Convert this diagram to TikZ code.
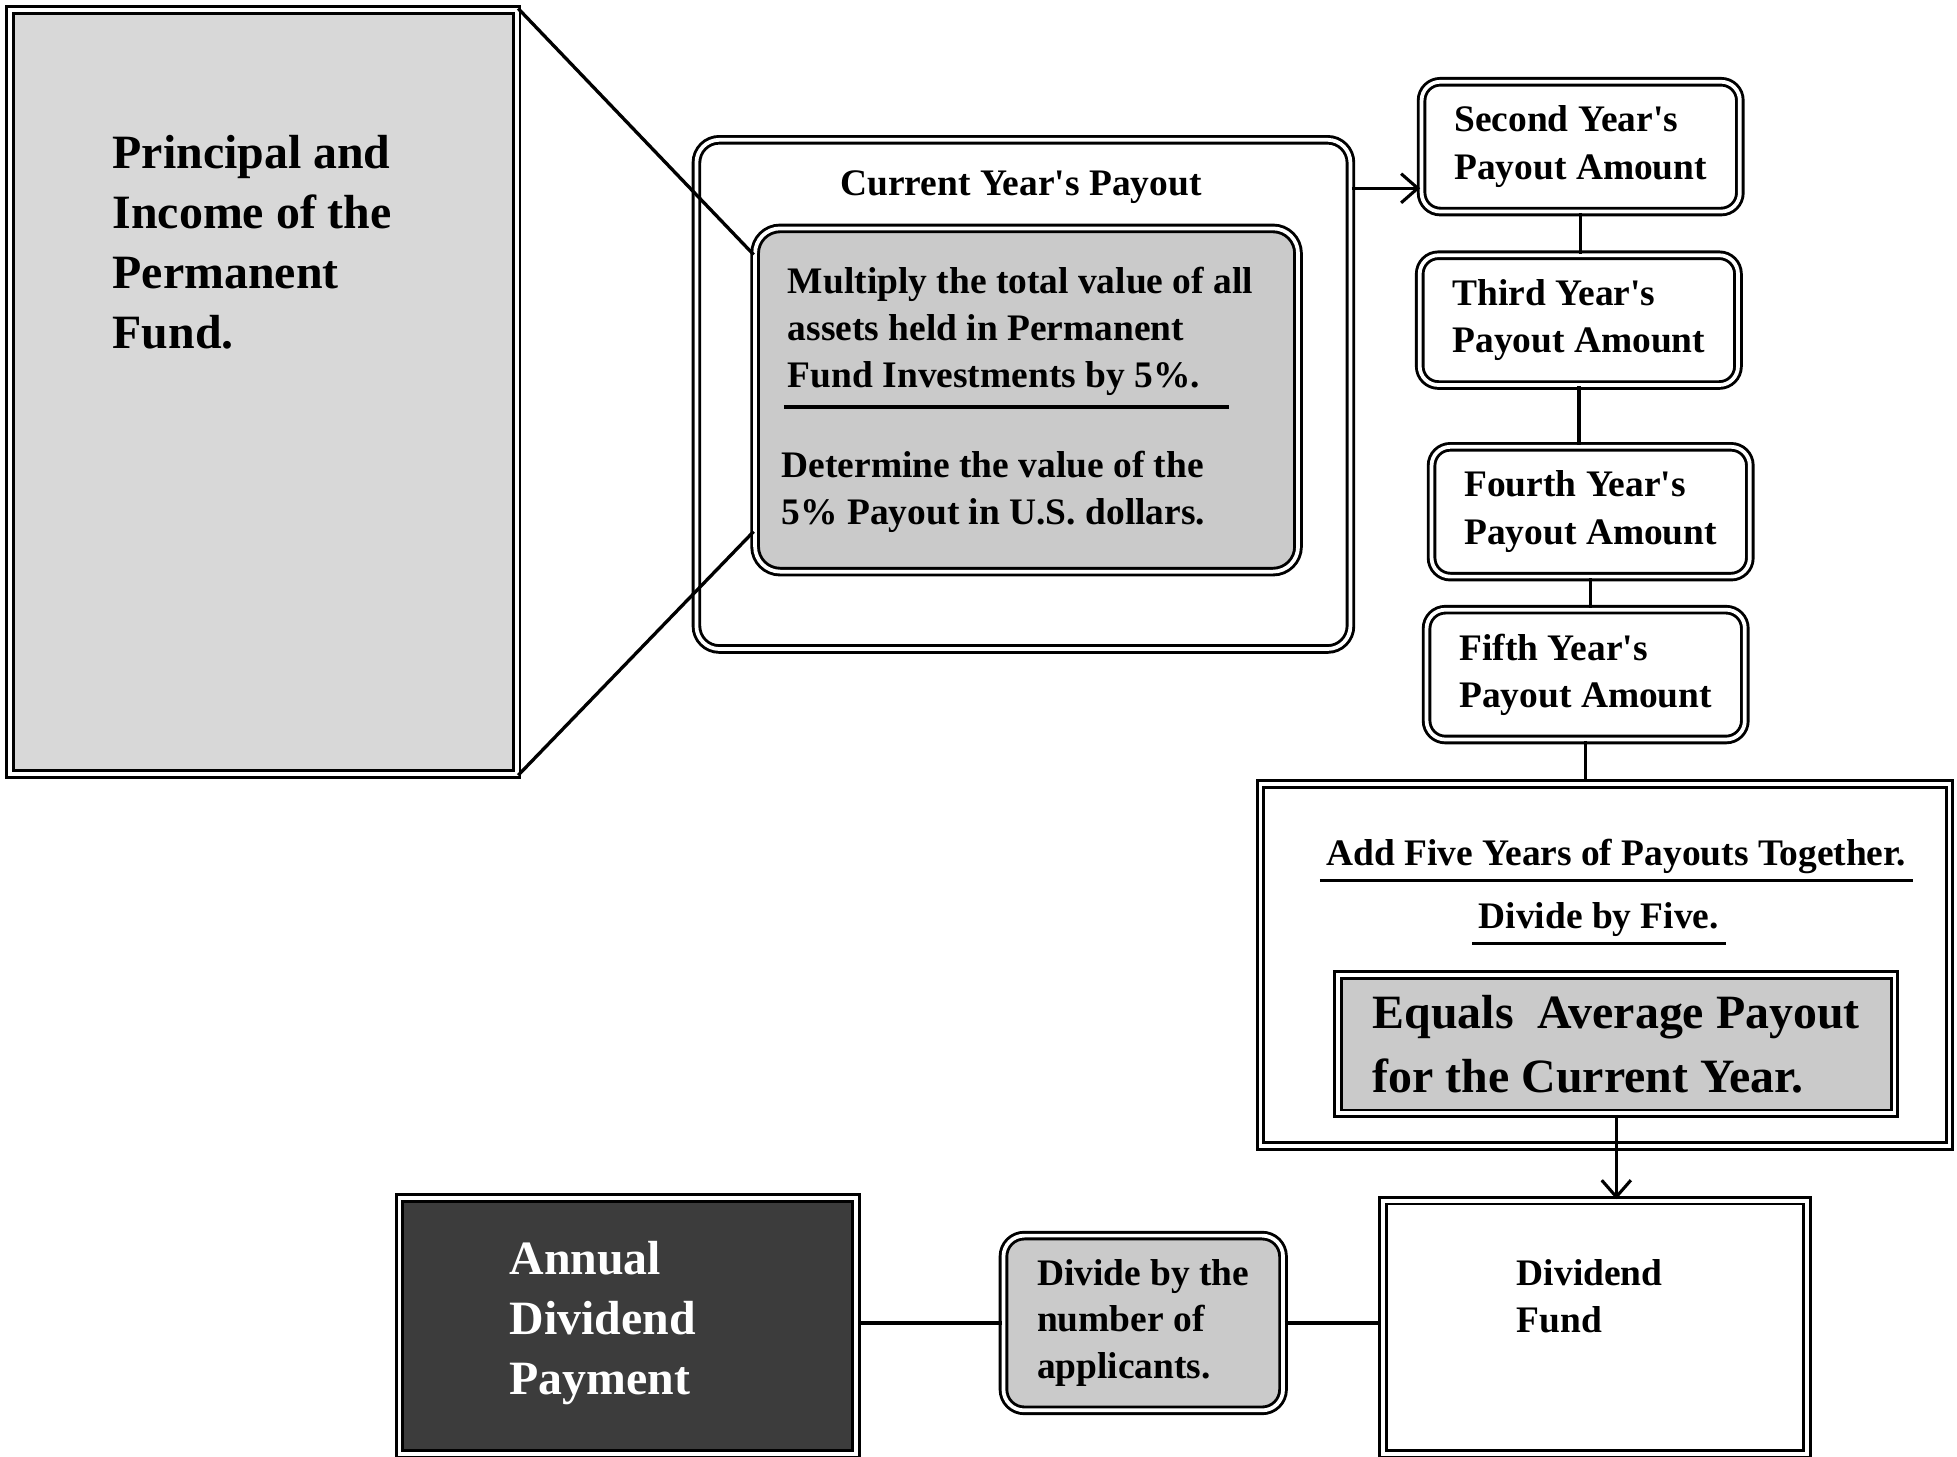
\documentclass[tikz,border=0pt]{standalone}
\usepackage{fontspec}
\setmainfont{Liberation Serif}
\usetikzlibrary{arrows.meta,calc,positioning}
\usepackage{xcolor}

\definecolor{panelgray}{HTML}{D8D8D8}
\definecolor{calcgray}{HTML}{CACACA}
\definecolor{darkpanel}{HTML}{3C3C3C}
\newcommand{\apos}{\textquotesingle}

\tikzset{
  dbl/.style={draw, line width=1.4pt, double=white, double distance=1.8pt, inner sep=0pt},
  yearbox/.style={dbl, rounded corners=9pt, fill=white, minimum width=153pt, minimum height=62.4pt,
    align=left, font=\fontsize{18}{22.8}\selectfont\bfseries},
  link/.style={line width=1.6pt},
  barb/.style={-{Straight Barb[length=8pt,width=14pt,line width=1.5pt]}},
  txt/.style={inner sep=0pt, align=left, font=\fontsize{18}{22.5}\selectfont\bfseries},
  bigtxt/.style={inner sep=0pt, align=left, font=\fontsize{23}{28.8}\selectfont\bfseries}
}

\begin{document}
\begin{tikzpicture}[x=0.6pt, y=-0.6pt]
    \useasboundingbox (0,0) rectangle (1568,1167);
    \fill[white] (0,0) rectangle (1568,1167);

    % Permanent fund
    \node[dbl, fill=panelgray, minimum width=243.6pt, minimum height=367.2pt] (principal) at (211,314) {};
    \node[bigtxt, anchor=north west] (principaltxt) at (90,108) {Principal and\\Income of the\\Permanent\\Fund.};

    % Current year's payout
    \node[dbl, rounded corners=11pt, fill=white, minimum width=314.4pt, minimum height=244.8pt] (current) at (820,316) {};
    \node[txt] (currenttitle) at (818,150) {Current Year\apos s Payout};
    \node[dbl, rounded corners=12pt, fill=calcgray, minimum width=261pt, minimum height=165pt] (calc) at (822.5,320.5) {};
    \node[txt, anchor=north west] (multiply) at (631,214) {Multiply the total value of all\\assets held in Permanent\\Fund Investments by 5\%.};
    \draw[line width=1.8pt] (628,326) -- (985,326);
    \node[txt, anchor=north west] (determine) at (626,361) {Determine the value of the\\5\% Payout in U.S. dollars.};

    % Payout years
    \node[yearbox] (second) at (1266.5,117.5) {Second Year\apos s\\Payout Amount};
    \node[yearbox] (third) at (1265,256.5) {Third Year\apos s\\Payout Amount};
    \node[yearbox] (fourth) at (1274.5,410) {Fourth Year\apos s\\Payout Amount};
    \node[yearbox] (fifth) at (1270.5,540.5) {Fifth Year\apos s\\Payout Amount};

    % Average
    \node[dbl, fill=white, minimum width=331.2pt, minimum height=174pt] (avg) at (1286,773) {};
    \node[txt, inner sep=3pt] (addfive) at (1295,686) {Add Five Years of Payouts Together.};
    \draw[line width=1.6pt] (addfive.south west) -- (addfive.south east);
    \node[txt, inner sep=3pt] (divfive) at (1281,737) {Divide by Five.};
    \draw[line width=1.6pt] (divfive.south west) -- (divfive.south east);
    \node[dbl, fill=calcgray, minimum width=267.6pt, minimum height=66.6pt, align=left,
      font=\fontsize{23}{31}\selectfont\bfseries] (equals) at (1295,836.5) {Equals\ \ Average Payout\\for the Current Year.};

    % Dividend
    \node[dbl, fill=white, minimum width=204pt, minimum height=121.8pt] (dividend) at (1278,1063.5) {};
    \node[txt, anchor=north west] (dividendtxt) at (1215,1009) {Dividend\\Fund};
    \node[dbl, txt, rounded corners=10pt, fill=calcgray, minimum width=134.4pt, minimum height=84pt] (divide) at (916,1060) {Divide by the\\number of\\applicants.};
    \node[dbl, fill=darkpanel, minimum width=219.6pt, minimum height=123pt] (annual) at (503,1062.5) {};
    \node[bigtxt, text=white, anchor=north west] (annualtxt) at (408,994) {Annual\\Dividend\\Payment};

    % Connectors
    \draw[link] (principal.north east) -- ($(calc.north west)!0.08!(calc.south west)$);
    \draw[link] (principal.south east) -- ($(calc.north west)!0.88!(calc.south west)$);
    \coordinate (cypout) at ([yshift=-24pt]current.north east);
    \draw[link, barb] (cypout) -- (cypout -| second.west);
    \draw[link] (second.south) -- (second.south |- third.north);
    \draw[link] (third.south) -- (third.south |- fourth.north);
    \draw[link] (fourth.south) -- (fourth.south |- fifth.north);
    \draw[link] (fifth.south) -- (fifth.south |- avg.north);
    \draw[link, barb] (equals.south) -- (equals.south |- dividend.north);
    \draw[link] (divide.east) -- (divide.east -| dividend.west);
    \draw[link] (divide.west) -- (divide.west -| annual.east);
\end{tikzpicture}
\end{document}
